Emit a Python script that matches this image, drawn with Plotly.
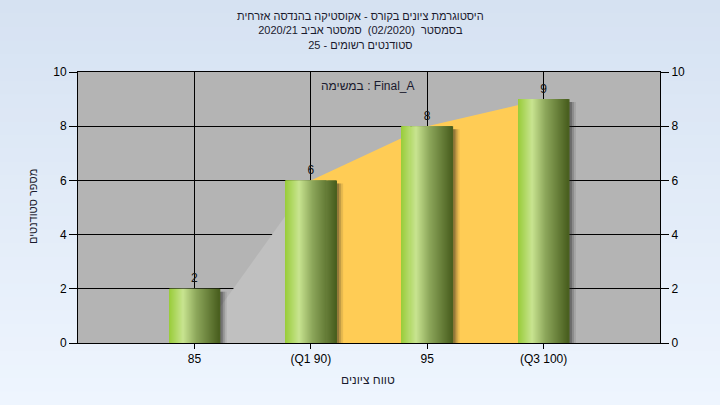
import plotly.graph_objects as go

# ---- data ----
categories = ["85", "(Q1 90)", "95", "(Q3 100)"]
counts = [2, 6, 8, 9]
lower_area_cats = ["85", "(Q1 90)"]
lower_area_vals = [0, 6]
upper_area_cats = ["(Q1 90)", "95", "(Q3 100)"]
upper_area_vals = [6, 8, 9]

title_lines = [
    "היסטוגרמת ציונים בקורס - אקוסטיקה בהנדסה אזרחית",
    "בסמסטר  (02/2020)  סמסטר אביב 2020/21",
    "סטודנטים רשומים - 25",
]
series_label = "במשימה : Final_A"
x_title = "טווח ציונים"
y_title = "מספר סטודנטים"
y_ticks = [0, 2, 4, 6, 8, 10]

# ---- geometry / style ----
W, H = 720, 405
L, R, T, B = 78, 60, 72, 62
PW, PH = W - L - R, H - T - B
FONT = "Liberation Sans, Arial, DejaVu Sans, sans-serif"

def px_x(px):
    return (px - L) / PW

def px_y(py):
    return (H - B - py) / PH

fig = go.Figure()

# area behind bars (main subplot)
fig.add_trace(go.Scatter(x=lower_area_cats, y=lower_area_vals, mode="lines",
                         line=dict(width=0, color="#C0C0C0"), fill="tozeroy",
                         fillcolor="#C0C0C0", hoverinfo="skip", showlegend=False))
fig.add_trace(go.Scatter(x=upper_area_cats, y=upper_area_vals, mode="lines",
                         line=dict(width=0, color="#FFCC55"), fill="tozeroy",
                         fillcolor="#FFCC55", hoverinfo="skip", showlegend=False))

# bars on overlaying axis so they sit above the area
bw = 0.435
unit_px = PW / 5.0
for k, (dx, a) in enumerate([(7, 0.10), (5, 0.18), (3, 0.28)]):
    fig.add_trace(go.Bar(x=categories, y=[c - 3 / 27.1 for c in counts], yaxis="y2",
                         width=bw, offset=-bw / 2 + dx / unit_px,
                         marker=dict(color=f"rgba(30,30,30,{a})", line=dict(width=0)),
                         hoverinfo="skip", showlegend=False))

stops = [(0.0, (152, 204, 56)), (0.28, (200, 228, 144)), (0.55, (140, 166, 90)), (1.0, (72, 94, 30))]

def grad(t):
    for (t0, c0), (t1, c1) in zip(stops[:-1], stops[1:]):
        if t <= t1:
            f = (t - t0) / (t1 - t0)
            return "rgb(%d,%d,%d)" % tuple(round(c0[i] + (c1[i] - c0[i]) * f) for i in range(3))
    return "rgb(%d,%d,%d)" % stops[-1][1]

N = 50
sw = bw / N
for i in range(N):
    fig.add_trace(go.Bar(x=categories, y=counts, yaxis="y2",
                         width=sw * 1.6, offset=-bw / 2 + i * sw,
                         marker=dict(color=grad((i + 0.5) / N), line=dict(width=0)),
                         hoverinfo="skip", showlegend=False))

fig.add_trace(go.Scatter(x=categories, y=counts, yaxis="y2", mode="markers+text",
                         marker=dict(size=4, color="rgba(0,0,0,0)"),
                         text=[str(c) for c in counts], textposition="top center",
                         textfont=dict(family=FONT, size=12, color="#111"),
                         hoverinfo="skip", showlegend=False, cliponaxis=False))

# background gradient + plot area
shapes = []
top_c, bot_c = (214, 226, 242), (238, 245, 254)
NS = 30
for i in range(NS):
    f = i / (NS - 1)
    col = "rgb(%d,%d,%d)" % tuple(round(top_c[j] + (bot_c[j] - top_c[j]) * f) for j in range(3))
    y0 = H * i / NS
    y1 = H * (i + 1) / NS + 1
    shapes.append(dict(type="rect", xref="paper", yref="paper", layer="below",
                       x0=px_x(0), x1=px_x(W), y0=px_y(y1), y1=px_y(y0),
                       fillcolor=col, line=dict(width=0)))
shapes.append(dict(type="rect", xref="paper", yref="paper", layer="below",
                   x0=0, x1=1, y0=0, y1=1, fillcolor="#B4B4B4", line=dict(width=0)))

annotations = []
annotations.append(dict(text="<br>".join(title_lines), x=px_x(360), y=px_y(30.5),
                        xref="paper", yref="paper", align="center",
                        showarrow=False, xanchor="center", yanchor="middle",
                        font=dict(family=FONT, size=11, color="#1a1a2e")))
annotations.append(dict(text=series_label, x=px_x(368), y=px_y(86), xref="paper", yref="paper",
                        showarrow=False, xanchor="center", yanchor="middle",
                        font=dict(family=FONT, size=12, color="#1a1a2e")))
annotations.append(dict(text=x_title, x=px_x(368), y=px_y(380), xref="paper", yref="paper",
                        showarrow=False, xanchor="center", yanchor="middle",
                        font=dict(family=FONT, size=12, color="#1a1a2e")))
annotations.append(dict(text=y_title, x=px_x(33), y=px_y(207), xref="paper", yref="paper",
                        showarrow=False, xanchor="center", yanchor="middle", textangle=-90,
                        font=dict(family=FONT, size=11, color="#1a1a2e")))

fig.update_layout(
    width=W, height=H,
    margin=dict(l=L, r=R, t=T, b=B, pad=0),
    paper_bgcolor="rgba(0,0,0,0)",
    plot_bgcolor="rgba(0,0,0,0)",
    barmode="overlay",
    showlegend=False,
    shapes=shapes,
    annotations=annotations,
    font=dict(family=FONT, size=12, color="#000"),
    xaxis=dict(type="category", categoryorder="array", categoryarray=categories,
               range=[-1, 4], showgrid=True, gridcolor="#000", gridwidth=1,
               showline=True, linecolor="#000", linewidth=1, mirror=True,
               ticks="outside", ticklen=5, tickcolor="#000",
               tickfont=dict(family=FONT, size=12, color="#000"), zeroline=False),
    yaxis=dict(range=[0, 10], tickvals=y_ticks, showgrid=True, gridcolor="#000", gridwidth=1,
               showline=True, linecolor="#000", linewidth=1,
               ticks="outside", ticklen=8, tickcolor="#000", zeroline=False,
               tickfont=dict(family=FONT, size=12, color="#000")),
    yaxis2=dict(range=[0, 10], tickvals=y_ticks, overlaying="y", side="right",
                showgrid=False, showline=True, linecolor="#000", linewidth=1,
                ticks="outside", ticklen=8, tickcolor="#000", zeroline=False,
                tickfont=dict(family=FONT, size=12, color="#000")),
)

fig.write_html("out.html", config={"displayModeBar": False},
               post_script="document.body.style.margin='0';document.body.style.background='#EEF5FE';")
